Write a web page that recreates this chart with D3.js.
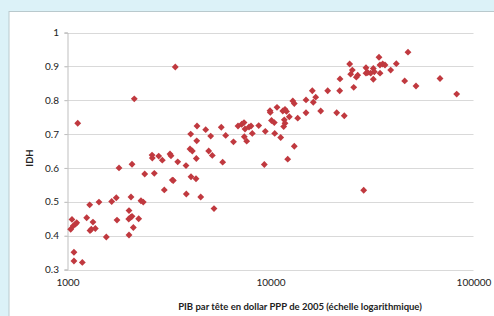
<!DOCTYPE html>
<html><head><meta charset="utf-8">
<script src="https://cdn.jsdelivr.net/npm/d3@7"></script>
<style>
html,body{margin:0;padding:0;background:#dcf2f8;}
svg{display:block;}
</style></head>
<body>
<svg id="c" width="494" height="316"></svg>
<script>
// PIB par tête (PPP, $ 2005)
const gdp = [1052,1037,1068,1093,1110,1076,1076,1183,1123,1243,1286,1335,1291,1310,1371,1429,1553,1651,1739,1753,
1794,2009,2003,2048,2079,2110,2009,2055,2079,2242,2301,2362,2401,2609,2617,2677,2814,2931,2998,3198,
3234,3284,3320,3491,3835,3848,4013,4120,4059,4296,4311,4331,4532,4961,5168,5269,5813,6571,7634,9322,
2133,3396,4045,4345,4795,5075,5722,6015,6918,7214,7406,7490,7430,7837,8017,8134,8748,9427,
9943,9977,10115,10440,10764,10489,11226,11497,11787,11990,11695,11787,11614,12377,12880,13098,13614,13098,12155,
14960,14960,16068,16250,16700,17673,19132,21190,21999,21923,23090,24545,24830,25290,25700,26470,26890,
29540,29540,30120,31160,32100,32460,32100,34230,34620,34640,35700,36650,39090,41660,47560,45820,52090,68390,82640,28780];
// IDH
const idh = [0.448,0.419,0.429,0.434,0.438,0.351,0.325,0.321,0.732,0.453,0.491,0.440,0.415,0.419,0.421,0.499,0.396,0.501,0.512,0.446,
0.600,0.474,0.449,0.454,0.457,0.424,0.402,0.514,0.611,0.450,0.503,0.499,0.582,0.638,0.629,0.584,0.635,0.623,0.535,0.641,
0.636,0.564,0.563,0.618,0.607,0.523,0.656,0.650,0.574,0.568,0.628,0.680,0.514,0.650,0.637,0.480,0.617,0.677,0.679,0.610,
0.804,0.898,0.700,0.724,0.713,0.694,0.720,0.696,0.724,0.729,0.734,0.715,0.692,0.721,0.724,0.702,0.725,0.708,
0.769,0.764,0.740,0.734,0.779,0.702,0.690,0.768,0.773,0.767,0.742,0.732,0.722,0.751,0.798,0.790,0.747,0.664,0.626,
0.801,0.763,0.828,0.794,0.809,0.768,0.828,0.763,0.863,0.828,0.754,0.907,0.877,0.889,0.838,0.868,0.874,
0.896,0.880,0.882,0.880,0.894,0.884,0.862,0.927,0.904,0.880,0.907,0.904,0.889,0.908,0.942,0.857,0.842,0.864,0.818,0.534];
const xTicks = [1000,10000,100000];
const yTicks = [0.3,0.4,0.5,0.6,0.7,0.8,0.9,1];
const xTitle = "PIB par tête en dollar PPP de 2005 (échelle logarithmique)";
const yTitle = "IDH";

const svg = d3.select("#c");
// white panel
svg.append("rect").attr("x",9).attr("y",11.5).attr("width",490).attr("height",310)
  .attr("fill","#ffffff").attr("stroke","#b9c9cd").attr("stroke-width",1);

const x = d3.scaleLog().domain([1000,100000]).range([67.5,473.5]);
const y = d3.scaleLinear().domain([0.3,1]).range([269.5,32.5]);

// gridlines
svg.append("g").selectAll("line").data(yTicks).join("line")
  .attr("x1",64.5).attr("x2",473.5)
  .attr("y1",d=>Math.round(y(d))+0.5).attr("y2",d=>Math.round(y(d))+0.5)
  .attr("stroke","#d9d9d9").attr("stroke-width",1);

// y axis
const ya = svg.append("g").attr("transform","translate(67.5,0)")
  .call(d3.axisLeft(y).tickValues(yTicks).tickSize(3).tickPadding(5.5)
    .tickFormat(d=>d===1?"1":d3.format(".1f")(d)));
ya.select(".domain").attr("stroke","#bfbfbf");
ya.selectAll(".tick line").attr("stroke","#bfbfbf");
ya.selectAll("text").attr("font-family","Lato, 'Open Sans', sans-serif").attr("font-size",10).attr("fill","#222");

// x axis (labels only)
const xa = svg.append("g").attr("transform","translate(0,269.5)")
  .call(d3.axisBottom(x).tickValues(xTicks).tickSize(0).tickPadding(9).tickFormat(d3.format("d")));
xa.select(".domain").remove();
xa.selectAll("text").attr("font-family","Lato, 'Open Sans', sans-serif").attr("font-size",10).attr("fill","#222");

// titles
svg.append("text").attr("x",300).attr("y",310).attr("text-anchor","middle")
  .attr("font-family","Lato, 'Open Sans', sans-serif").attr("font-weight","bold").attr("font-size",9.5)
  .attr("fill","#222").text(xTitle);
svg.append("text").attr("transform","translate(33,158) rotate(-90)").attr("text-anchor","middle")
  .attr("font-family","Lato, 'Open Sans', sans-serif").attr("font-weight","bold").attr("font-size",9.5)
  .attr("fill","#222").text(yTitle);

// points
const pts = gdp.map((g,i)=>({g, v: idh[i]}));
const sym = d3.symbol().type(d3.symbolDiamond2).size(30);
svg.append("g").selectAll("path").data(pts).join("path")
  .attr("transform",d=>`translate(${x(d.g)},${y(d.v)})`)
  .attr("d",sym).attr("fill","#c0393f");
</script>
</body></html>
